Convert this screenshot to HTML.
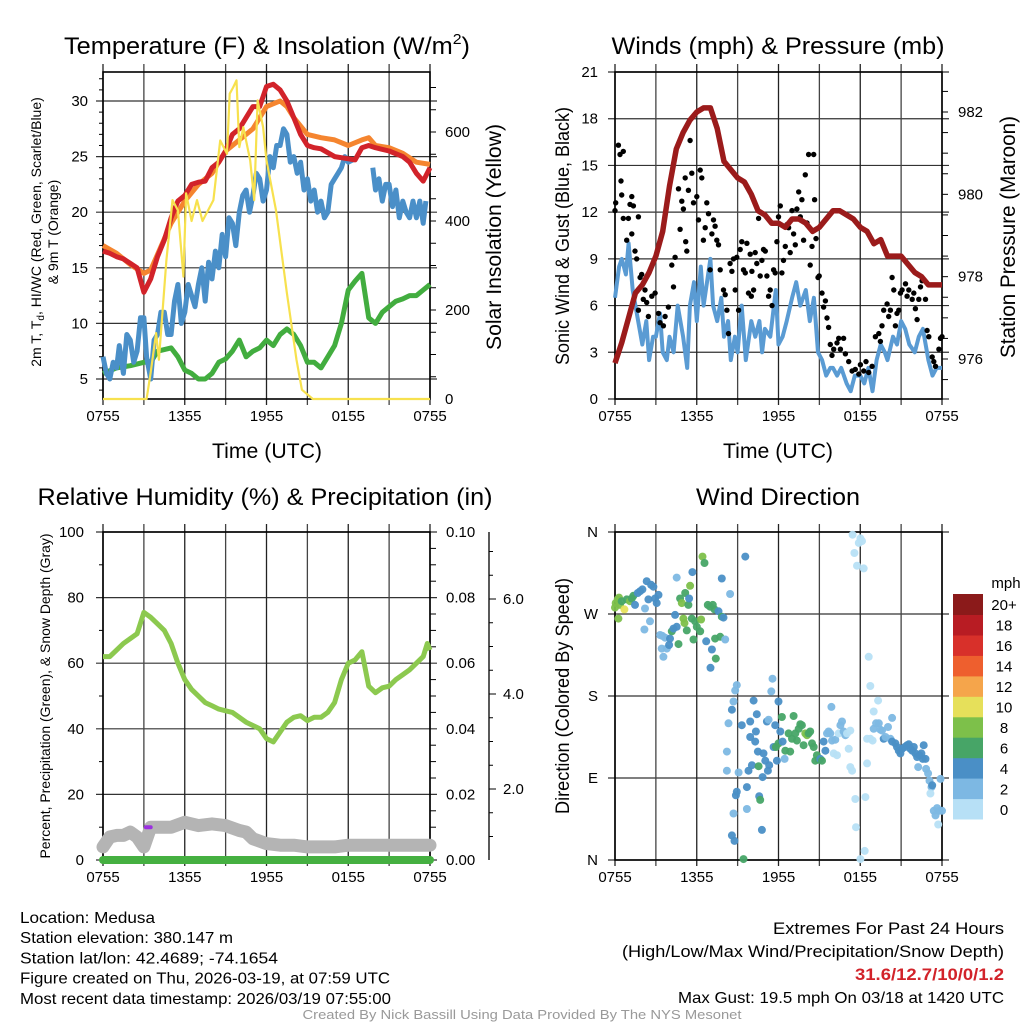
<!DOCTYPE html>
<html><head><meta charset="utf-8"><style>
html,body{margin:0;padding:0;background:#fff}
svg{display:block;font-family:"Liberation Sans",sans-serif}
</style></head><body>
<svg id="c" width="1024" height="1024" viewBox="0 0 1024 1024"></svg>
<script>
// ---------- DATA ----------
const xTickLabels=["0755","1355","1955","0155","0755"];
const tempTicks=[5,10,15,20,25,30];
const solarTicks=[0,200,400,600];
const windTicks=[0,3,6,9,12,15,18,21];
const presTicks=[976,978,980,982];
const rhTicks=[0,20,40,60,80,100];
const precipTicks=["0.00","0.02","0.04","0.06","0.08","0.10"];
const snowTicks=["2.0","4.0","6.0"];
const dirLabels=["N","E","S","W","N"];
const cbLabels=["0","2","4","6","8","10","12","14","16","18","20+"];
const cbColors=["#b7e0f6","#7db8e3","#4a8fc6","#47a567","#7dc04a","#e6e05a","#f5a54b","#ee5f2e","#d8302a","#b81c23","#8b1a1a"];

const redH=[0,0.5,1,1.5,2,2.5,3,3.5,4,4.5,5,5.5,6,6.5,7,7.5,8,8.5,9,9.5,10,10.5,11,11.5,12,12.5,13,13.5,14,14.5,15,15.5,16,17,18,18.5,19,19.5,20,21,22,22.5,23,23.5,24];
const redT=[16.5,16.3,16,15.8,15.4,15,12.8,14,16,17.5,19.5,21,21.5,22.5,22.7,22.8,24,24.5,25.5,27,27.5,28.5,29.5,29.5,31.3,31.5,31,30,28.5,27,26,25.8,25.7,25,24.8,24.7,25.8,26,25.8,25.5,25,24.5,23.5,22.8,24];
const orgH=[0,1,2,3,3.5,4,5,6,7,8,9,10,11,12,13,13.5,14,15,16,17,18,19,19.5,20,21,22,23,24];
const orgT=[17,16.3,15.3,14.5,14.8,16.2,19,21,22.5,23.5,25.5,26.5,27.5,29.5,30,29.5,28.5,27,26.7,26.5,26,26.5,26.7,26,25.8,25.3,24.5,24.3];
const bluH=[0,0.25,0.5,0.75,1,1.2,1.5,1.75,2,2.25,2.5,2.75,3,3.2,3.5,3.75,4,4.25,4.5,4.75,5,5.25,5.5,5.75,6,6.25,6.5,6.75,7,7.25,7.5,7.75,8,8.25,8.5,8.75,9,9.25,9.5,9.75,10,10.25,10.5,10.75,11,11.25,11.5,11.75,12,12.25,12.5,12.75,13,13.25,13.5,13.75,14,14.25,14.5,14.75,15,15.25,15.5,15.75,16,16.25,16.5,16.75,17,17.25,17.5,17.75,18,18.5,18.6,19.8,20,20.25,20.5,20.75,21,21.25,21.5,21.75,22,22.25,22.5,22.75,23,23.25,23.5,23.7];
const bluT=[7,5.5,5,6.5,6,8,5.5,9,8.5,6.5,7.5,10.5,10.5,7,5,8.5,9,11,11,9,9,12,13.5,10,11,13.5,12.5,11.5,13.5,15,12,15.5,14,16.5,15,18,16,19.5,19,17,20,21.5,22,20,21.5,23.5,23,21,22,25,24,26,26,27.5,27,24.5,25,23.5,24.5,22,23,21,22,20,21,19.5,20,22.5,23,23.5,24,25,24.5,24.8,null,24,22,23,21,22.5,22.5,20.5,22,19.5,21,20,19.5,21,19.5,21,19,21];
const grnH=[0,1,2,3,3.5,4,5,5.5,6,6.5,7,7.5,8,8.5,9,9.5,10,10.5,11,11.5,12,12.5,13,13.5,14,14.5,15,15.5,16,16.5,17,17.5,18,18.5,19,19.5,20,20.5,21,21.5,22,22.5,23,23.5,24];
const grnT=[5.5,6,6.2,6.5,6.5,7.5,7.8,7,5.8,5.5,5,5,5.5,6.5,6.8,7.5,8.5,7,7.5,7.8,8.5,8,9,9.5,9,8,6.5,6.5,6,7,8,10,13,13.8,14.5,10.5,10,11,11.5,12,12.2,12.5,12.5,13,13.5];
const solH=[0,3.2,3.5,3.9,4.1,4.65,5.1,5.5,5.9,6.1,6.5,6.9,7.3,8.1,8.6,9.1,9.3,9.55,9.8,10,10.3,10.8,11.1,11.35,11.75,12,12.7,13.5,14.2,14.6,15.4,24];
const solW=[0,0,60,148,88,312,447,424,275,462,400,447,400,447,581,551,686,700,716,566,611,536,447,671,611,536,424,238,88,21,0,0];

const windH=[0,0.3,0.5,0.8,1,1.3,1.6,2,2.3,2.5,2.8,3,3.3,3.5,3.8,4,4.3,4.6,5,5.3,5.5,5.8,6,6.3,6.5,7,7.2,7.5,7.8,8,8.3,8.5,8.8,9,9.3,9.6,10,10.3,10.6,10.8,11,11.4,11.8,12,12.3,12.6,13,13.3,13.6,14,14.3,14.6,14.9,15.2,15.5,15.8,16,16.3,16.6,17,17.3,17.6,18,18.3,18.6,18.9,19.2,19.5,19.8,20,20.4,20.7,21,21.3,21.6,22,22.3,22.6,23,23.3,23.6,24];
const windV=[6.5,8.5,9,8,10,7,5.5,3.5,5,2.5,4,4,5.5,3,2.5,4,3,6,4,2,6,7.5,5,8.5,6,9,6,5,6.5,4,5,2.5,4,3,6,2.5,5,4,5,3,4.5,4,7,3.5,4,5,6.5,7.5,6,7,5,6.5,3,2.5,1.5,2,2,1.5,2,1,0.5,1.5,1.5,1,2,0.5,2.5,3.5,3,2.5,4,3.5,5,4.5,3.5,3,4,4.5,2.5,1.5,2,2];
const presH=[0,0.5,1,1.5,2,2.5,3,3.5,4,4.5,5,5.5,6,6.5,7,7.5,8,8.5,9,9.5,10,10.5,11,11.5,12,12.5,13,13.5,14,14.5,15,15.5,16,16.5,17,17.5,18,18.5,19,19.5,20,20.5,21,21.5,22,22.5,23,24];
const presV=[975.9,976.4,977,977.6,977.8,978.1,978.5,979.1,980.2,981.1,981.5,981.8,982,982.1,982.1,981.6,980.8,980.6,980.4,980.3,980,979.6,979.5,979.3,979.3,979.2,979.4,979.4,979.3,979.1,979.2,979.4,979.6,979.6,979.5,979.4,979.2,979.1,978.8,978.9,978.5,978.5,978.5,978.3,978.1,978,977.8,977.8];
const gustH=[0,0.05,0.25,0.37,0.44,0.61,0.49,0.61,0.98,0.86,1.23,1.1,1.23,1.35,1.47,1.59,1.72,1.84,1.96,1.72,2.08,2.2,2.33,2.45,2.7,2.94,3.19,3.31,3.55,3.68,3.92,4.17,4.29,4.41,4.66,4.78,4.9,5.02,5.15,5.19,5.27,5.39,5.51,5.64,5.76,6.0,6.13,6.25,6.37,6.49,6.62,6.74,6.86,6.98,7.11,7.23,7.35,7.47,7.6,7.72,7.96,8.09,8.21,8.33,8.45,8.58,8.7,8.82,8.94,9.07,9.19,9.31,9.43,9.56,9.68,9.8,9.92,10.0,10.05,10.17,10.29,10.41,10.54,10.66,10.78,10.9,11.03,11.15,11.27,11.39,11.52,11.64,11.76,11.88,12.0,12.13,12.25,12.37,12.5,12.62,12.74,12.86,12.99,13.11,13.23,13.35,13.48,13.6,13.72,13.84,13.97,14.09,14.21,14.33,14.46,14.58,14.65,14.75,14.9,14.99,15.19,15.31,15.44,15.56,15.68,15.8,15.93,16.05,16.29,16.42,16.54,16.78,16.91,17.15,17.4,17.64,17.89,18.01,18.25,18.42,18.62,18.87,19.11,19.36,19.48,19.6,19.72,19.97,20.09,20.21,20.34,20.46,20.58,20.7,20.83,20.95,21.07,21.32,21.44,21.56,21.81,21.93,22.05,22.17,22.3,22.42,22.54,22.79,22.91,23.03,23.28,23.4,23.52,23.77,23.89,24.0];
const gustV=[12.1,12.6,16.3,15.7,14,15.9,13.1,11.6,11.6,10.2,13,12.5,10.6,12.4,9.5,9,11.7,7.8,8,5.7,6.4,7,6.2,5.3,6.6,6.8,5.5,4.9,4.7,5.3,5.9,8.6,7.2,9.1,13.5,10.9,12.7,12.2,14.2,10.1,9.5,13.4,16.6,14.5,12.6,13,11.5,14.7,14.2,10.2,11,12.6,11.9,8.3,10.6,11.5,11.1,10.2,9.9,8.3,7,6.7,5.7,4.2,8.7,8.2,9,7,9.1,5.7,9.6,10.1,8.3,8.1,10,6.8,9.3,6.6,8.2,7,9.4,8.7,11.6,7.9,8.9,9.6,9.5,7.9,6.6,7,6,8.3,8.1,10.1,11.7,12.4,8.1,8.9,9.8,11.2,11,9.4,12.1,10.6,9.9,12.2,13.3,11.7,12.8,10.2,14.4,11.3,15.7,8.6,9.8,15.7,12.8,10.3,7.8,7.9,6.8,5.9,6.3,5.2,4.6,3.5,2.8,3.2,3.6,3.9,3.2,3.9,2.9,2.4,1.8,1.9,1.6,2.2,1.8,2.4,1.7,2.1,4,4.2,3.7,4.7,5.7,6.1,5.3,5.7,7.8,7,4.7,5.5,5.7,6.8,7,7.4,6.6,7,6.4,6.8,5.8,5.1,6.4,7.2,7.6,6.4,4.4,4,2.7,2.4,2.1,3.2,3.9,4];

const rhH=[0,0.5,1,1.5,2,2.5,3,3.5,4,4.5,5,5.5,6,6.5,7,7.5,8,8.5,9,9.5,10,10.5,11,11.5,12,12.5,13,13.5,14,14.5,15,15.5,16,16.5,17,17.5,18,18.5,19,19.5,20,20.5,21,21.5,22,22.5,23,23.5,23.8,24];
const rhV=[62,62,64,66,67.5,69,75.5,74,72,70,66,60,55,52,50,48,47,46,45.5,45,43.5,42,41,40,37,36,39,42,43.5,44,42.5,43.5,43.5,45,48,55,60,61,63.5,53,51,52.5,53,55,56.5,58,60,62,66,64];
const snowH=[0,0.5,1,1.5,2,2.5,3,3.5,4,5,6,7,8,9,10,10.5,11,12,13,14,15,16,17,18,19,24];
const snowV=[4,7,7.5,7.5,8.5,7,4,10,10,10,11.5,10.5,11,10.5,9,8.5,6.5,5,4.5,4.5,4,4,4,4.5,4.5,4.5];
const precipH=[0,24];
const precipV=[0,0];

const dirH=[0,0.05,0.2,0.29,0.37,0.25,0.49,0.69,0.86,1.1,1.23,1.35,1.47,1.67,1.84,2.01,2.2,2.16,2.33,2.45,2.57,2.65,2.82,2.94,3.06,3.19,3.31,3.48,3.43,3.55,3.68,3.8,3.97,4.04,4.17,4.29,4.41,4.53,4.53,4.66,4.78,4.9,5.02,5.1,5.15,5.27,5.39,5.44,5.51,5.64,5.68,5.76,5.88,6.0,6.25,6.32,6.42,6.57,6.69,6.81,6.98,7.01,7.11,7.18,7.3,7.35,7.4,7.6,7.72,7.84,7.84,7.96,8.09,8.45,
8.33,8.21,8.21,8.58,8.7,8.82,8.94,9.07,9.31,8.7,8.58,8.77,8.87,8.94,9.43,9.56,9.68,9.68,9.8,9.92,9.92,10.05,10.17,10.29,10.34,10.41,10.49,10.54,10.58,10.66,10.78,10.83,10.9,11.03,11.15,11.22,11.27,11.32,11.47,11.56,11.64,11.76,11.81,11.88,12.0,12.0,12.13,12.25,12.3,12.45,12.5,12.74,12.86,12.99,13.11,13.23,13.35,13.48,13.6,13.72,13.84,13.97,14.09,14.21,14.33,14.46,14.58,14.7,14.82,14.95,15.07,15.19,15.31,15.44,15.56,15.68,15.8,15.88,15.93,16.05,16.17,16.29,16.42,16.54,16.66,16.78,16.91,17.03,17.15,17.27,17.27,17.4,
17.44,17.57,17.76,17.89,18.01,18.13,18.25,17.64,17.69,18.01,18.38,18.33,18.5,18.62,18.74,18.99,19.31,18.5,18.74,18.91,18.99,19.16,19.36,19.48,19.6,19.72,19.85,20.04,20.21,20.34,20.34,20.58,20.7,20.83,20.95,21.07,21.27,21.44,21.56,21.68,21.81,21.93,22.05,22.17,22.25,22.34,22.49,22.59,22.66,22.79,22.83,22.98,23.08,23.23,23.28,23.15,23.4,23.52,23.64,23.72,23.89,23.81,24.0];
const dirDeg=[277,282,286,288,280,265,284,275,286,284,287,290,280,293,295,297,276,253,306,286,262,302,300,287,282,291,247,246,232,223,244,232,236,243,251,254,269,310,256,237,287,282,265,260,293,252,280,287,301,265,316,242,262,256,251,264,333,326,240,280,278,211,231,280,275,243,221,273,245,267,309,266,242,292,
150,119,98,165,174,186,192,96,148,51,27,21,71,75,1,333,80,56,98,152,135,104,175,130,141,160,119,103,70,66,33,91,117,109,152,98,154,104,185,199,124,148,124,109,174,128,141,157,130,111,120,139,119,133,158,139,131,144,149,148,126,139,137,139,141,128,124,109,115,110,111,109,130,120,139,141,139,168,131,117,132,115,139,148,152,141,137,139,122,142,102,98,
357,337,323,348,353,350,320,67,36,1,69,10,106,223,191,163,175,133,133,131,144,150,150,143,142,133,135,146,133,156,130,128,124,120,117,122,124,126,127,122,120,124,117,113,102,115,117,111,126,111,100,95,87,80,82,73,54,49,57,39,89,54,54];
const dirSpd=[8,8,8,8,8,8,6,10,6,8,6,6,4,4,4,4,2,2,4,4,2,4,4,4,4,4,2,2,2,2,2,2,4,4,6,4,4,2,4,6,6,8,8,8,6,6,6,4,8,6,4,6,6,6,6,8,8,6,4,6,6,4,4,6,6,6,6,4,6,6,4,4,2,2,
2,2,2,4,2,2,2,2,4,2,4,4,4,4,6,4,4,2,4,4,4,4,4,4,4,4,4,6,4,6,4,4,4,4,4,4,2,4,2,2,4,4,6,4,4,6,4,6,4,2,6,6,6,6,6,6,6,6,6,6,6,8,8,6,6,6,6,6,6,6,4,6,4,4,2,2,2,2,2,0,2,0,0,2,2,2,2,0,0,0,0,0,
0,0,0,0,0,0,0,0,0,0,0,0,0,0,0,0,0,0,0,0,2,2,2,2,2,4,2,2,2,2,4,4,4,4,4,4,4,4,4,4,4,4,4,4,2,4,4,4,4,4,2,2,2,2,4,0,2,2,2,0,2,2,2];

// ---------- DRAWING ----------
const svg=document.getElementById('c');
const NS='http://www.w3.org/2000/svg';
function mk(tag,attrs,parent,name){
  const e=document.createElementNS(NS,tag);
  for(const k in attrs)e.setAttribute(k,attrs[k]);
  
  
  (parent||svg).appendChild(e);return e;
}
function txt(s,x,y,size,anchor,parent,name,extra){
  const t=mk('text',Object.assign({x:x,y:y,'font-size':size,'text-anchor':anchor||'middle',fill:'#000'},extra||{}),parent,name);
  t.textContent=s;return t;
}
function fit(len){return {textLength:len,lengthAdjust:'spacingAndGlyphs'};}
const PX=[103,430];
function xs(h){return PX[0]+h*(PX[1]-PX[0])/24;}
function lin(d0,d1,r0,r1){return v=>r0+(v-d0)*(r1-r0)/(d1-d0);}

function frame(g,ox,top,bot,nm){
  for(let i=0;i<=8;i++){
    const x=ox+xs(i*3)-PX[0];
    mk('line',{x1:x,x2:x,y1:top-8,y2:bot+6,stroke:i%2==0?'#222':'#444','stroke-width':1.3},g,nm+'-vgrid');
  }
  mk('rect',{x:ox,y:top,width:PX[1]-PX[0],height:bot-top,fill:'none',stroke:'#000','stroke-width':1.6},g,nm+'-frame');
  for(let i=0;i<5;i++){
    txt(xTickLabels[i],ox+xs(i*6)-PX[0],bot+22,15,'middle',g,nm+'-x-tick-label');
  }
}
function hgrid(g,ox,y,nm){
  mk('line',{x1:ox-7,x2:ox+327+7,y1:y,y2:y,stroke:'#333','stroke-width':1.2},g,nm+'-hgrid');
}
function path(h,v,fx,fy){
  let d='',pen=false;
  for(let i=0;i<h.length;i++){
    if(v[i]===null){pen=false;continue;}
    d+=(pen?'L':'M')+fx(h[i]).toFixed(1)+','+fy(v[i]).toFixed(1);pen=true;
  }
  return d;
}

// ===== Panel 1 =====
(function(){
  const g=mk('g',{},svg,'temperature-panel');
  const top=72,bot=399,ox=103;
  const ty=lin(5,30,379,101), sy=lin(0,600,399,132);
  const tt=txt('',267,54,24,'middle',g,'temp-title',fit(406));
  tt.innerHTML='Temperature (F) &amp; Insolation (W/m<tspan font-size="15" dy="-10">2</tspan><tspan dy="10">)</tspan>';
  tempTicks.forEach(t=>{hgrid(g,ox,ty(t),'temp');txt(String(t),88,ty(t)+5,15,'end',g,'temp-y-tick-label');});
  for(let t=4;t<=32;t++){if(t%5)mk('line',{x1:99,x2:103,y1:ty(t),y2:ty(t),stroke:'#000'},g,'temp-minor-tick');}
  solarTicks.forEach(s=>{txt(String(s),445,sy(s)+5,15,'start',g,'solar-y-tick-label');});
  for(let s=50;s<=700;s+=50){mk('line',{x1:430,x2:436,y1:sy(s),y2:sy(s),stroke:'#000'},g,'solar-minor-tick');}
  frame(g,ox,top,bot,'temp');
  mk('path',{d:path(grnH,grnT,xs,ty),fill:'none',stroke:'#42ad3f','stroke-width':5,'stroke-linejoin':'round'},g,'dewpoint-line');
  mk('path',{d:path(bluH,bluT,xs,ty),fill:'none',stroke:'#4a8fc8','stroke-width':5,'stroke-linejoin':'round'},g,'temp-blue-line');
  mk('path',{d:path(orgH,orgT,xs,ty),fill:'none',stroke:'#f5852f','stroke-width':5,'stroke-linejoin':'round'},g,'temp-9m-line');
  mk('path',{d:path(redH,redT,xs,ty),fill:'none',stroke:'#d2232a','stroke-width':5,'stroke-linejoin':'round'},g,'temp-2m-line');
  mk('path',{d:path(solH,solW,xs,sy),fill:'none',stroke:'#f7e14e','stroke-width':2.2,'stroke-linejoin':'round'},g,'solar-line');
  txt('Time (UTC)',267,458,21,'middle',g,'temp-x-axis-title',fit(110));
  txt('',0,0,14,'middle',g,'temp-y-axis-title',{transform:'translate(41,232) rotate(-90)'}).innerHTML='2m T, T<tspan font-size="10" dy="3">d</tspan><tspan dy="-3">, HI/WC (Red, Green, Scarlet/Blue)</tspan>';
  txt('& 9m T (Orange)',0,0,14,'middle',g,'temp-y-axis-title-2',{transform:'translate(58,232) rotate(-90)'});
  txt('Solar Insolation (Yellow)',0,0,21,'middle',g,'solar-y-axis-title',Object.assign({transform:'translate(501,237) rotate(-90)'},fit(226)));
})();

// ===== Panel 2 =====
(function(){
  const g=mk('g',{},svg,'wind-panel');
  const top=72,bot=399,ox=615,dx=ox-PX[0];
  const wx=h=>xs(h)+dx, wy=lin(0,21,399,72), py=lin(976,982,359,112);
  txt('Winds (mph) & Pressure (mb)',778,54,24,'middle',g,'wind-title',fit(333));
  windTicks.forEach(t=>{hgrid(g,ox,wy(t),'wind');txt(String(t),598,wy(t)+5,15,'end',g,'wind-y-tick-label');});
  presTicks.forEach(p=>txt(String(p),958,py(p)+5,15,'start',g,'pressure-y-tick-label'));
  for(let p=975.5;p<=983;p+=0.5){if(py(p)>=72&&py(p)<=399)mk('line',{x1:942,x2:948,y1:py(p),y2:py(p),stroke:'#000'},g,'pressure-minor-tick');}
  frame(g,ox,top,bot,'wind');
  mk('path',{d:path(windH,windV,wx,wy),fill:'none',stroke:'#5a9bd3','stroke-width':4,'stroke-linejoin':'round'},g,'sustained-wind-line');
  gustH.forEach((h,i)=>mk('circle',{cx:wx(h).toFixed(1),cy:wy(gustV[i]).toFixed(1),r:2.7,fill:'#000'},g,'gust-point'));
  mk('path',{d:path(presH,presV,wx,py),fill:'none',stroke:'#9b1b1b','stroke-width':5.5,'stroke-linejoin':'round'},g,'pressure-line');
  txt('Time (UTC)',778,458,21,'middle',g,'wind-x-axis-title',fit(110));
  txt('Sonic Wind & Gust (Blue, Black)',0,0,19,'middle',g,'wind-y-axis-title',Object.assign({transform:'translate(569,236) rotate(-90)'},fit(258)));
  txt('Station Pressure (Maroon)',0,0,21,'middle',g,'pressure-y-axis-title',Object.assign({transform:'translate(1015,237) rotate(-90)'},fit(242)));
})();

// ===== Panel 3 =====
(function(){
  const g=mk('g',{},svg,'humidity-panel');
  const top=532,bot=860,ox=103;
  const ry=lin(0,100,860,532), snowy=lin(2,6,789,599);
  txt('Relative Humidity (%) & Precipitation (in)',265,505,24,'middle',g,'rh-title',fit(455));
  rhTicks.forEach((t,i)=>{hgrid(g,ox,ry(t),'rh');txt(String(t),84,ry(t)+5,15,'end',g,'rh-y-tick-label');txt(precipTicks[i],446,ry(t)+5,15,'start',g,'precip-y-tick-label');});
  for(let t=5;t<100;t+=5){if(t%20)mk('line',{x1:430,x2:436,y1:ry(t),y2:ry(t),stroke:'#000'},g,'precip-minor-tick');
    if(t%10==0&&t%20)mk('line',{x1:99,x2:103,y1:ry(t),y2:ry(t),stroke:'#000'},g,'rh-minor-tick');}
  frame(g,ox,top,bot,'rh');
  mk('line',{x1:489,x2:489,y1:532,y2:860,stroke:'#000','stroke-width':1.3},g,'snow-axis-line');
  snowTicks.forEach(s=>{const y=snowy(+s);mk('line',{x1:489,x2:496,y1:y,y2:y,stroke:'#000'},g,'snow-tick');txt(s,503,y+5,15,'start',g,'snow-tick-label');});
  for(let s=0.5;s<=7;s+=0.5){const y=snowy(s);if(y>534&&y<858&&s%2)mk('line',{x1:489,x2:493,y1:y,y2:y,stroke:'#000'},g,'snow-minor-tick');}
  mk('path',{d:path(snowH,snowV,xs,ry),fill:'none',stroke:'#b4b4b4','stroke-width':13,'stroke-linejoin':'round','stroke-linecap':'round'},g,'snow-depth-line');
  mk('path',{d:path(precipH,precipV,xs,ry),fill:'none',stroke:'#45b041','stroke-width':8,'stroke-linecap':'round'},g,'precip-line');
  mk('line',{x1:xs(3.15),x2:xs(3.5),y1:ry(10),y2:ry(10),stroke:'#9b30e0','stroke-width':4,'stroke-linecap':'round'},g,'precip-marker');
  mk('path',{d:path(rhH,rhV,xs,ry),fill:'none',stroke:'#8cc94f','stroke-width':5,'stroke-linejoin':'round'},g,'rh-line');
  txt('Percent, Precipitation (Green), & Snow Depth (Gray)',0,0,14,'middle',g,'rh-y-axis-title',Object.assign({transform:'translate(50,696) rotate(-90)'},fit(325)));
})();

// ===== Panel 4 =====
(function(){
  const g=mk('g',{},svg,'wind-direction-panel');
  const top=532,bot=860,ox=615,dx=ox-PX[0];
  const wx=h=>xs(h)+dx, dy=lin(0,360,860,532);
  txt('Wind Direction',778,505,24,'middle',g,'dir-title',fit(164));
  dirLabels.forEach((l,i)=>{const y=dy(i*90);hgrid(g,ox,y,'dir');txt(l,598,y+5,15,'end',g,'dir-y-tick-label');});
  frame(g,ox,top,bot,'dir');
  dirH.forEach((h,i)=>{
    const idx=Math.max(0,Math.min(10,Math.round(dirSpd[i]/2)));
    mk('circle',{cx:wx(h).toFixed(1),cy:dy(dirDeg[i]).toFixed(1),r:4,fill:cbColors[idx],'fill-opacity':0.95},g,'dir-point');
  });
  txt('Direction (Colored By Speed)',0,0,19,'middle',g,'dir-y-axis-title',Object.assign({transform:'translate(569,696) rotate(-90)'},fit(236)));
  const cb=mk('g',{},g,'speed-colorbar');
  const cbTop=594,bh=22.5*225/247.5;
  for(let i=0;i<11;i++){
    const y=cbTop+(10-i)*bh;
    mk('rect',{x:953,y:y.toFixed(1),width:30,height:(bh+0.5).toFixed(1),fill:cbColors[i]},cb,'colorbar-bin');
    txt(cbLabels[i],1004,y+bh/2+6,15,'middle',cb,'colorbar-label');
  }
  txt('mph',1006,588,15,'middle',cb,'colorbar-title');
})();

// ===== Footer =====
(function(){
  const g=mk('g',{},svg,'footer');
  const L=["Location: Medusa","Station elevation: 380.147 m","Station lat/lon: 42.4689; -74.1654","Figure created on Thu, 2026-03-19, at 07:59 UTC","Most recent data timestamp: 2026/03/19 07:55:00"];
  const LW=[135,213,258,370,371];
  L.forEach((s,i)=>txt(s,20,923+i*20.2,16,'start',g,'station-info-line',fit(LW[i])));
  txt('Extremes For Past 24 Hours',1004,934,16.5,'end',g,'extremes-title',fit(231));
  txt('(High/Low/Max Wind/Precipitation/Snow Depth)',1004,957,16.5,'end',g,'extremes-subtitle',fit(382));
  txt('31.6/12.7/10/0/1.2',1004,980,16.5,'end',g,'extremes-values',Object.assign({fill:'#d2232a','font-weight':'bold'},fit(149)));
  txt('Max Gust: 19.5 mph On 03/18 at 1420 UTC',1004,1003,16,'end',g,'max-gust',fit(326));
  txt('Created By Nick Bassill Using Data Provided By The NYS Mesonet',522,1019,13,'middle',g,'credit',Object.assign({fill:'#999'},fit(439)));
})();
</script>
</body></html>
